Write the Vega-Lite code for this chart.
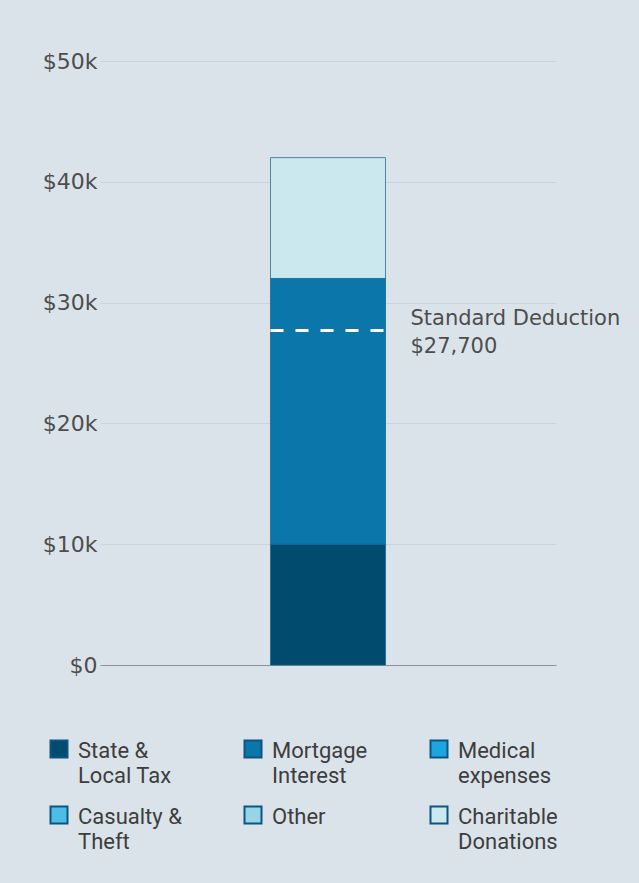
{
  "$schema": "https://vega.github.io/schema/vega-lite/v6.json",
  "width": 456,
  "height": 604,
  "autosize": {"type": "none"},
  "padding": {"left": 100, "top": 61, "right": 83, "bottom": 218},
  "background": "#dbe3ea",
  "config": {"view": {"stroke": null}},
  "datasets": {
    "items": [
      {"item": "Itemized", "category": "State & Local Tax", "amount": 10000, "stack": 1},
      {"item": "Itemized", "category": "Mortgage Interest", "amount": 22000, "stack": 2},
      {"item": "Itemized", "category": "Medical expenses", "amount": 0, "stack": 3},
      {"item": "Itemized", "category": "Casualty & Theft", "amount": 0, "stack": 4},
      {"item": "Itemized", "category": "Other", "amount": 0, "stack": 5},
      {"item": "Itemized", "category": "Charitable Donations", "amount": 10000, "stack": 6}
    ],
    "standard": [
      {"item": "Itemized", "amount": 27700, "label": "Standard Deduction\n$27,700"}
    ]
  },
  "layer": [
    {
      "data": {"name": "items"},
      "mark": {"type": "bar", "stroke": "#0d5f8a", "strokeWidth": 1, "strokeOpacity": 0.7},
      "encoding": {
        "x": {
          "field": "item", "type": "nominal",
          "scale": {"paddingInner": 0.3255, "paddingOuter": 1},
          "axis": {"labels": false, "ticks": false, "title": null, "domainColor": "#8c939b", "domainWidth": 1}
        },
        "y": {
          "field": "amount", "type": "quantitative", "stack": "zero",
          "scale": {"domain": [0, 50000], "nice": false},
          "axis": {
            "values": [0, 10000, 20000, 30000, 40000, 50000],
            "labelExpr": "datum.value == 0 ? '$0' : '$' + (datum.value/1000) + 'k'",
            "title": null, "domain": false, "ticks": false, "labelPadding": 3,
            "labelFont": "DejaVu Sans", "labelFontSize": 22, "labelColor": "#4d4d4d",
            "gridColor": "#c8d5df", "gridWidth": 1
          }
        },
        "color": {
          "field": "category", "type": "nominal",
          "scale": {
            "domain": ["State & Local Tax", "Mortgage Interest", "Medical expenses", "Casualty & Theft", "Other", "Charitable Donations"],
            "range": ["#004b6e", "#0a76a9", "#1ca5de", "#4dbde5", "#96d4e6", "#cbe8ee"]
          },
          "legend": {
            "title": null, "orient": "none", "legendX": -52, "legendY": 677,
            "direction": "horizontal", "columns": 3, "symbolType": "square",
            "symbolSize": 289, "symbolStrokeColor": "#0b5680", "symbolStrokeWidth": 2,
            "labelFont": "Roboto", "labelFontSize": 22, "labelColor": "#3d3d3d",
            "labelOffset": 8, "columnPadding": 58, "rowPadding": 15, "gridAlign": "each",
            "labelBaseline": "alphabetic", "padding": 0, "symbolOpacity": 1,
            "labelExpr": "datum.label == 'State & Local Tax' ? ['State &', 'Local Tax'] : datum.label == 'Mortgage Interest' ? ['Mortgage', 'Interest'] : datum.label == 'Medical expenses' ? ['Medical', 'expenses'] : datum.label == 'Casualty & Theft' ? ['Casualty &', 'Theft'] : datum.label == 'Charitable Donations' ? ['Charitable', 'Donations'] : datum.label",
            "encode": {"labels": {"update": {"dy": {"value": 9}, "lineHeight": {"value": 25}}}}
          }
        },
        "order": {"field": "stack", "type": "quantitative"}
      }
    },
    {
      "data": {"name": "standard"},
      "mark": {"type": "rule", "color": "white", "strokeWidth": 3, "strokeDash": [13, 12]},
      "encoding": {
        "x": {"field": "item", "type": "nominal", "bandPosition": 0},
        "x2": {"field": "item", "bandPosition": 1},
        "y": {"field": "amount", "type": "quantitative", "scale": {"domain": [0, 50000], "nice": false}}
      }
    },
    {
      "data": {"name": "standard"},
      "mark": {"type": "text", "align": "left", "baseline": "alphabetic", "dx": 25, "dy": -5, "font": "DejaVu Sans", "fontSize": 21, "color": "#4d4d4d", "lineHeight": 28, "lineBreak": "\n"},
      "encoding": {
        "x": {"field": "item", "type": "nominal", "bandPosition": 1},
        "y": {"field": "amount", "type": "quantitative", "scale": {"domain": [0, 50000], "nice": false}},
        "text": {"field": "label"}
      }
    }
  ]
}
